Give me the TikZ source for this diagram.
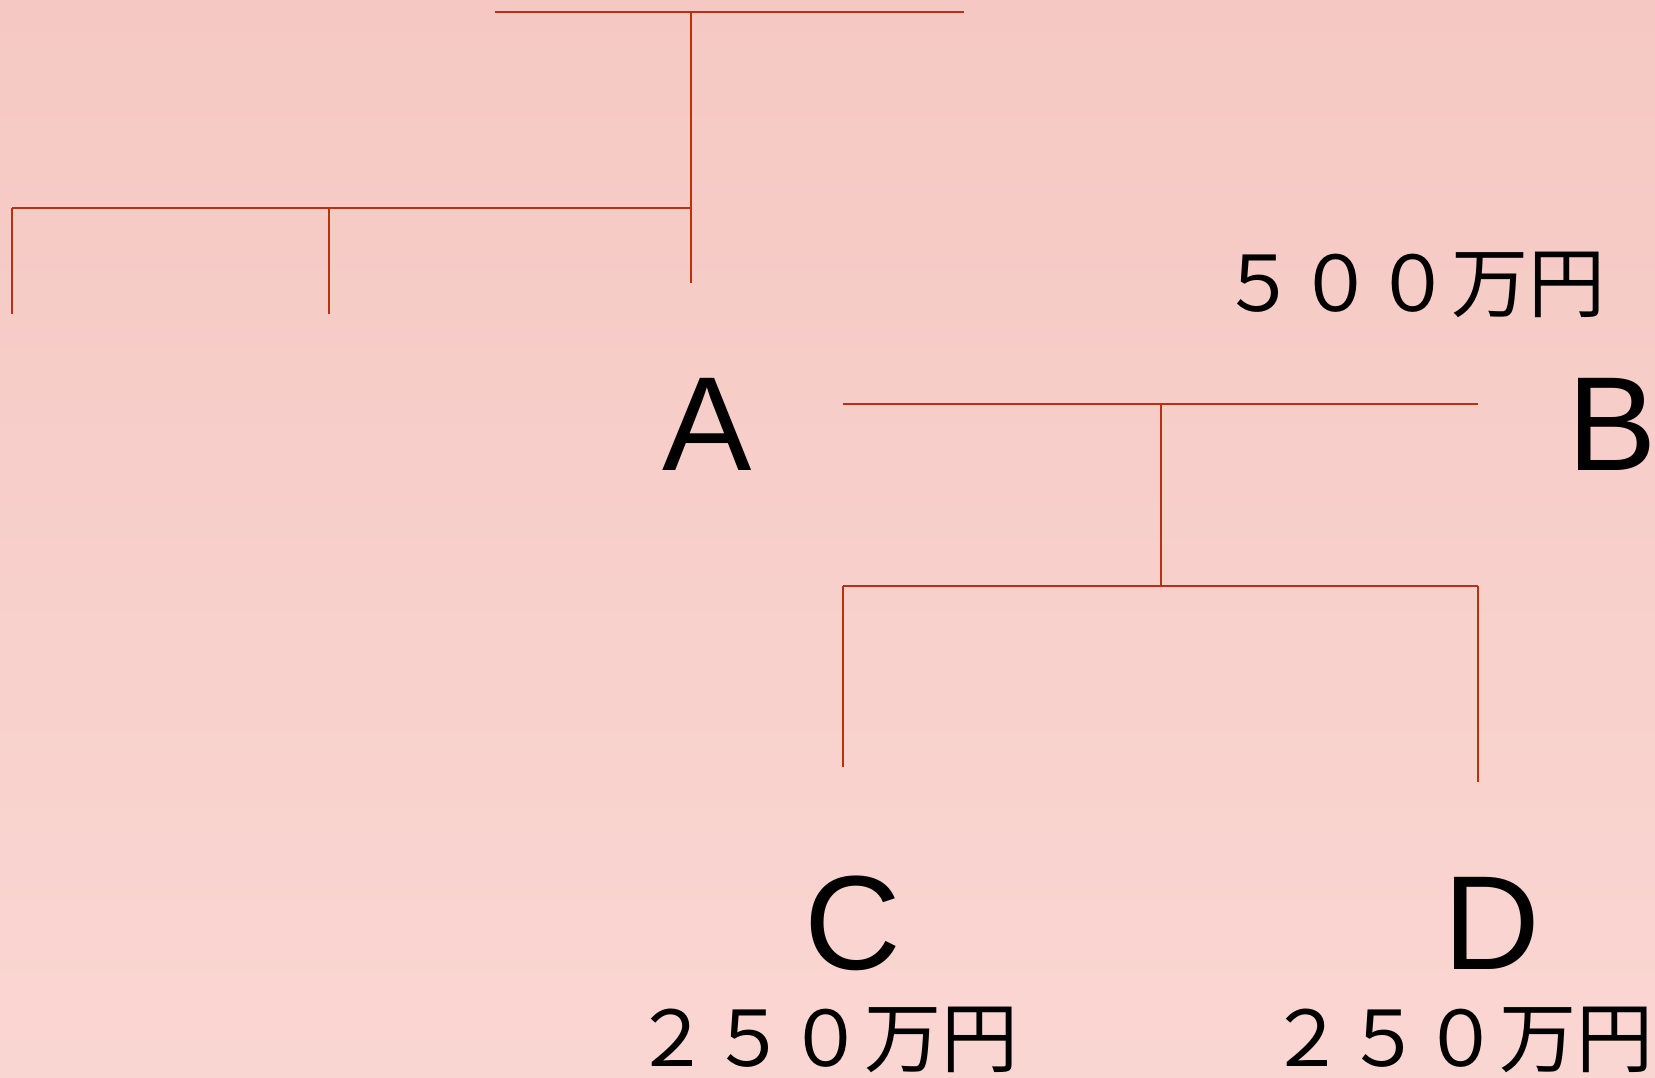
\documentclass[tikz,border=0pt]{standalone}
\usepackage{fontspec}
\setmainfont{Liberation Sans}
\newfontfamily\jpfont{Noto Sans CJK JP}
\definecolor{linecol}{RGB}{184,50,18}
\definecolor{bgtop}{RGB}{245,200,195}
\definecolor{bgmid}{RGB}{247,190,185}
\definecolor{bgbot}{RGB}{250,214,210}
\begin{document}
\begin{tikzpicture}[x=1pt,y=-1pt,
  famline/.style={draw=linecol, line width=1.7pt},
  letter/.style={font=\fontsize{134}{134}\selectfont, anchor=base, inner sep=0pt},
  amount/.style={font=\jpfont\fontsize{77}{77}\selectfont, anchor=base, inner sep=0pt}]
\useasboundingbox (0,0) rectangle (1655,1077);
\shade[top color=bgtop, middle color=bgmid, bottom color=bgbot] (0,0) rectangle (1655,1077);

% coordinates of the first family
\coordinate (t1l) at (495,12);
\coordinate (t1r) at (964,12);
\coordinate (t1m) at (691,12);
\coordinate (t1b) at (691,283);
\coordinate (h2l) at (12,208);
\coordinate (h2m) at (329,208);
\coordinate (h2r) at (691,208);
\coordinate (v1b) at (12,314);
\coordinate (v2b) at (329,314);

% coordinates of the second family
\coordinate (h3l) at (843,404);
\coordinate (h3r) at (1478,404);
\coordinate (h3m) at (1161,404);
\coordinate (h4m) at (1161,586);
\coordinate (h4l) at (843,586);
\coordinate (h4r) at (1478,586);
\coordinate (vCb) at (843,767);
\coordinate (vDb) at (1478,782);

\draw[famline] (t1l) -- (t1r);
\draw[famline] (t1m) -- (t1b);
\draw[famline] (h2l) -- (h2r);
\draw[famline] (h2l) -- (v1b);
\draw[famline] (h2m) -- (v2b);

\draw[famline] (h3l) -- (h3r);
\draw[famline] (h3m) -- (h4m);
\draw[famline] (h4l) -- (h4r);
\draw[famline] (h4l) -- (vCb);
\draw[famline] (h4r) -- (vDb);

\node[letter] (A) at (707,470) {A};
\node[letter] (B) at (1612,470) {B};
\node[letter] (C) at (853,969) {C};
\node[letter] (D) at (1492,969) {D};

\node[amount] (mB) at (1413,311.5) {５００万円};
\node[amount] (mC) at (826,1066) {２５０万円};
\node[amount] (mD) at (1461,1066) {２５０万円};
\end{tikzpicture}
\end{document}
